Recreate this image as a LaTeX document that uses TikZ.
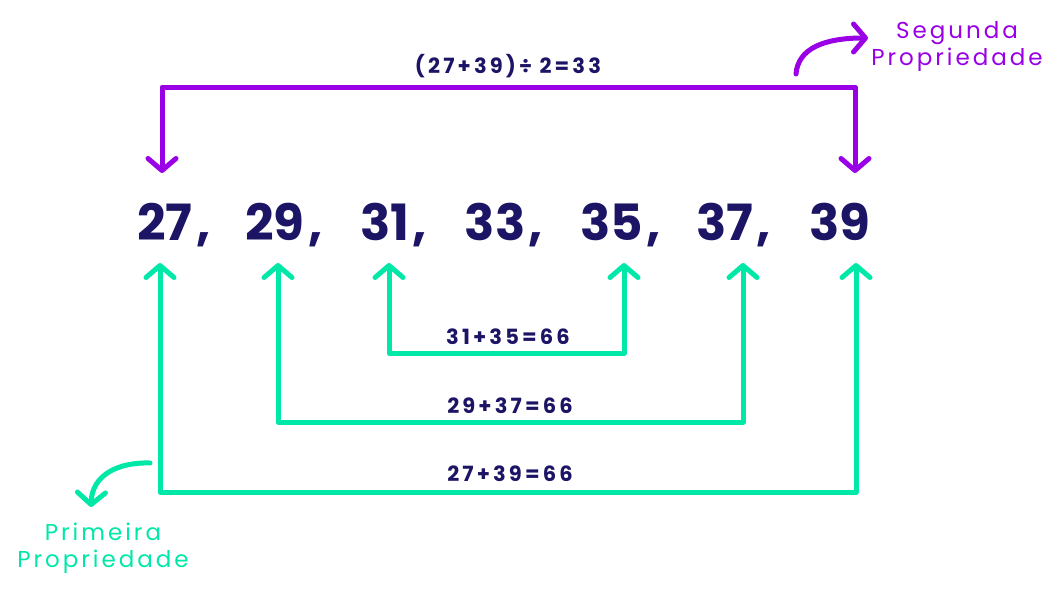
\documentclass[tikz,border=0pt]{standalone}
\usepackage{fontspec}
\setmainfont{Poppins}
\usetikzlibrary{arrows.meta}
\definecolor{vio}{HTML}{9A00E6}
\definecolor{mint}{HTML}{00E8A8}
\definecolor{navy}{HTML}{1C1464}
\tikzset{
  tip/.tip={Straight Barb[length=12pt,width=28pt,round]},
  gline/.style={draw=mint,line width=5pt,line cap=round,line join=round},
  vline/.style={draw=vio,line width=5pt,line cap=round,line join=round},
  num/.style={text=navy,font=\fontsize{50}{50}\selectfont\bfseries,inner sep=0pt},
  comma/.style={text=navy,font=\fontsize{50}{50}\selectfont\bfseries,inner sep=0pt},
  sumlbl/.style={text=navy,font=\fontsize{21}{21}\selectfont\bfseries\addfontfeature{LetterSpace=15},inner sep=0pt},
  vlbl/.style={text=vio,font=\fontsize{23}{27}\selectfont\addfontfeature{LetterSpace=13},align=center,inner sep=0pt},
  glbl/.style={text=mint,font=\fontsize{23}{27}\selectfont\addfontfeature{LetterSpace=13},align=center,inner sep=0pt},
}
\begin{document}
\begin{tikzpicture}[x=1pt,y=-1pt]
\useasboundingbox (0,0) rectangle (1063,592);
% numbers
\node[num] (n27) at (165,222) {27};
\node[num] (n29) at (275,222) {29};
\node[num] (n31) at (385,222) {31};
\node[num] (n33) at (495,222) {33};
\node[num] (n35) at (612,222) {35};
\node[num] (n37) at (725,222) {37};
\node[num] (n39) at (840,222) {39};
\node[comma,anchor=base west] (k1) at ([xshift=3pt]n27.base east) {,};
\node[comma,anchor=base west] (k2) at ([xshift=3pt]n29.base east) {,};
\node[comma,anchor=base west] (k3) at ([xshift=3pt]n31.base east) {,};
\node[comma,anchor=base west] (k4) at ([xshift=3pt]n33.base east) {,};
\node[comma,anchor=base west] (k5) at ([xshift=3pt]n35.base east) {,};
\node[comma,anchor=base west] (k6) at ([xshift=3pt]n37.base east) {,};
% coordinates
\coordinate (p27) at (162,173);
\coordinate (p39) at (855,173);
\coordinate (pt27) at (162,87);
\coordinate (pt39) at (855,87);
\coordinate (g27) at (160,263);
\coordinate (g29) at (278,263);
\coordinate (g31) at (389,263);
\coordinate (g35) at (624,263);
\coordinate (g37) at (743,263);
\coordinate (g39) at (856,263);
\coordinate (b27) at (160,492);
\coordinate (b39) at (856,492);
\coordinate (b29) at (278,422);
\coordinate (b37) at (743,422);
\coordinate (b31) at (389,353);
\coordinate (b35) at (624,353);
% purple connector
\draw[vline,{tip}-{tip}] (p27) -- (pt27) -- (pt39) -- (p39);
\node[sumlbl] (lv) at (508,66) {(27+39)÷ 2=33};
% green connectors
\draw[gline,{tip}-{tip}] (g27) -- (b27) -- (b39) -- (g39);
\draw[gline,{tip}-{tip}] (g29) -- (b29) -- (b37) -- (g37);
\draw[gline,{tip}-{tip}] (g31) -- (b31) -- (b35) -- (g35);
\node[sumlbl] (l1) at (508,337) {31+35=66};
\node[sumlbl] (l2) at (510,406) {29+37=66};
\node[sumlbl] (l3) at (510,474) {27+39=66};
% annotations
\node[vlbl] (seg) at (957,46) {Segunda\\Propriedade};
\node[glbl] (pri) at (103,548) {Primeira\\Propriedade};
\coordinate (sv) at (796,74);
\coordinate (se) at (868,38);
\draw[vline,-{tip}] (sv) .. controls (798,48) and (825,38) .. (se);
\coordinate (gv) at (150,463);
\coordinate (ge) at (91,507);
\draw[gline,-{tip}] (gv) .. controls (118,462) and (92,475) .. (ge);
\end{tikzpicture}
\end{document}
